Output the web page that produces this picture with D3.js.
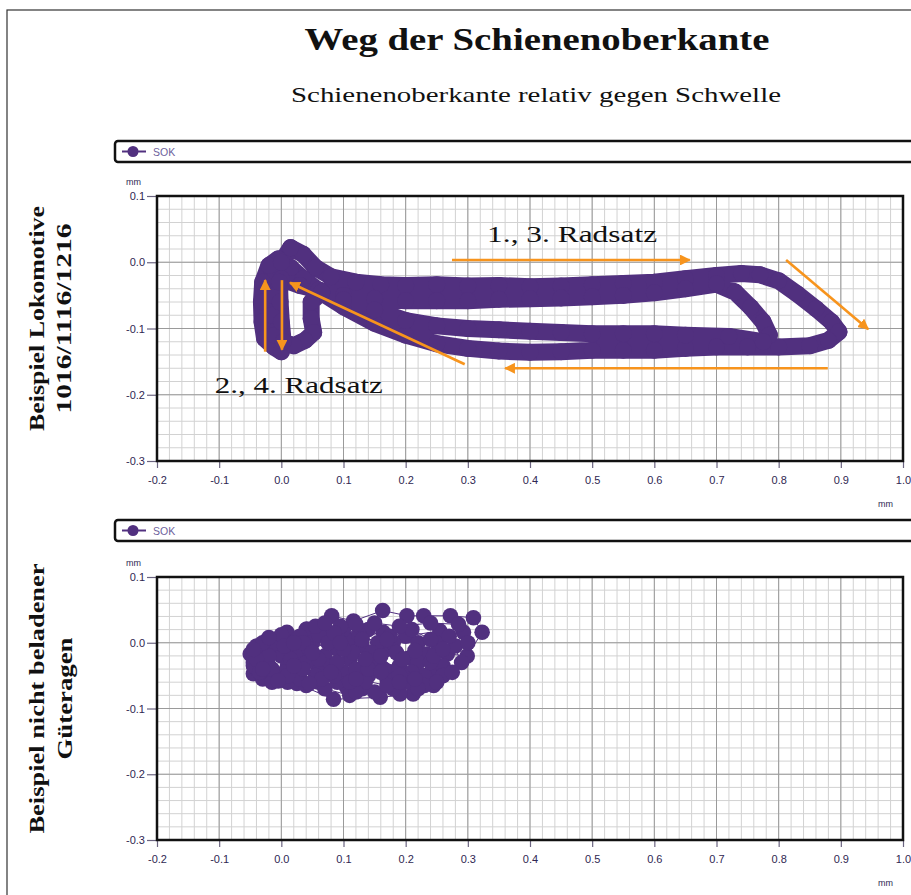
<!DOCTYPE html>
<html>
<head>
<meta charset="utf-8">
<script src="https://cdn.jsdelivr.net/npm/d3@7"></script>
<style>
  body { margin: 0; background: #fff; }
  svg { display: block; }
</style>
</head>
<body>
<svg id="chart" width="911" height="895"></svg>
<script>
// ---- data ---------------------------------------------------------------
const xTicks = [-0.2, -0.1, 0.0, 0.1, 0.2, 0.3, 0.4, 0.5, 0.6, 0.7, 0.8, 0.9, 1.0];
const xTickLabels = ["-0.2", "-0.1", "0.0", "0.1", "0.2", "0.3", "0.4", "0.5", "0.6", "0.7", "0.8", "0.9", "1.0"];
const yTicks = [0.1, 0.0, -0.1, -0.2, -0.3];
const yTickLabels = ["0.1", "0.0", "-0.1", "-0.2", "-0.3"];
const seriesName = "SOK";
const unitLabel = "mm";

// rail-head path relative to sleeper, locomotive (x, y in mm)
const locoPath = [
  [0.015, 0.022], [0.035, 0.012], [0.055, -0.008], [0.08, -0.022], [0.12, -0.03],
  [0.16, -0.034], [0.2, -0.035], [0.25, -0.034], [0.3, -0.036], [0.35, -0.035],
  [0.4, -0.037], [0.45, -0.036], [0.5, -0.034], [0.55, -0.032], [0.6, -0.03],
  [0.65, -0.025], [0.7, -0.02], [0.74, -0.017], [0.77, -0.019], [0.8, -0.028],
  [0.83, -0.048], [0.86, -0.07], [0.885, -0.09], [0.897, -0.105],
  [0.88, -0.118], [0.85, -0.126], [0.8, -0.128], [0.75, -0.128], [0.7, -0.128],
  [0.65, -0.13], [0.6, -0.133], [0.55, -0.133], [0.5, -0.133], [0.45, -0.135],
  [0.4, -0.136], [0.35, -0.134], [0.3, -0.13], [0.25, -0.123], [0.2, -0.11],
  [0.15, -0.092], [0.1, -0.067], [0.065, -0.046], [0.035, -0.025],
  [0.015, -0.008], [-0.005, 0.005], [-0.02, -0.005], [-0.03, -0.03], [-0.032, -0.06],
  [-0.031, -0.09], [-0.027, -0.115], [-0.012, -0.128], [0.0, -0.135], [-0.01, -0.11],
  [-0.015, -0.08], [-0.013, -0.05], [0.0, -0.025], [0.03, -0.035],
  [0.06, -0.042], [0.1, -0.05], [0.15, -0.055], [0.2, -0.058], [0.25, -0.058],
  [0.3, -0.058], [0.35, -0.056], [0.4, -0.055], [0.45, -0.054], [0.5, -0.052],
  [0.55, -0.05], [0.6, -0.046], [0.65, -0.04], [0.7, -0.033],
  [0.73, -0.045], [0.755, -0.068], [0.775, -0.09], [0.785, -0.11], [0.775, -0.12],
  [0.72, -0.112], [0.65, -0.11], [0.6, -0.108], [0.55, -0.108], [0.5, -0.108],
  [0.45, -0.106], [0.4, -0.104], [0.35, -0.102], [0.3, -0.1], [0.25, -0.096],
  [0.2, -0.088], [0.15, -0.072], [0.1, -0.057], [0.065, -0.045],
  [0.048, -0.06], [0.048, -0.085], [0.052, -0.106], [0.038, -0.118], [0.02, -0.126],
  [0.003, -0.12], [0.0, -0.09], [-0.002, -0.06], [-0.003, -0.03], [0.0, 0.0],
  [0.015, 0.022]
];

// rail-head path relative to sleeper, empty freight wagon (x, y in mm)
const wagonPath = [
  [-0.045, -0.03], [-0.03, -0.01], [0.0, 0.005], [0.04, 0.02], [0.081, 0.041],
  [0.116, 0.033], [0.163, 0.049], [0.202, 0.041], [0.229, 0.041], [0.272, 0.041],
  [0.309, 0.038], [0.323, 0.016], [0.299, -0.02], [0.267, -0.017], [0.245, -0.045],
  [0.212, -0.078], [0.159, -0.083], [0.084, -0.086], [0.025, -0.062], [-0.02, -0.05],
  [-0.045, -0.047],
  [-0.05, -0.017], [-0.023, 0.003], [0.009, 0.016], [0.041, 0.021], [0.07, 0.01],
  [0.11, 0.005], [0.164, 0.016], [0.2, 0.01], [0.255, 0.018], [0.293, 0.016],
  [0.28, -0.005], [0.234, -0.017], [0.207, -0.023], [0.245, -0.065], [0.191, -0.078],
  [0.13, -0.07], [0.105, -0.068], [0.06, -0.06], [0.0, -0.055], [-0.04, -0.04],
  [-0.035, -0.02], [-0.01, -0.01], [0.02, -0.005], [0.05, 0.0], [0.09, -0.01],
  [0.13, -0.005], [0.17, -0.01], [0.22, -0.03], [0.26, -0.035], [0.23, -0.05],
  [0.2, -0.06], [0.17, -0.055], [0.14, -0.05], [0.1, -0.045], [0.06, -0.04],
  [0.02, -0.045], [-0.02, -0.035],
  [-0.03, -0.025], [0.0, -0.02], [0.03, -0.015], [0.07, -0.02], [0.11, -0.025],
  [0.15, -0.03], [0.19, -0.035], [0.24, -0.03], [0.21, -0.045], [0.18, -0.045],
  [0.12, -0.04], [0.08, -0.035], [0.04, -0.03], [0.01, -0.035], [-0.025, -0.045],
  [-0.04, -0.005], [-0.01, 0.0], [0.025, 0.005], [0.06, 0.012], [0.1, 0.02],
  [0.14, 0.02], [0.18, 0.0], [0.22, 0.0], [0.25, 0.0], [0.27, 0.01],
  [0.29, -0.03], [0.26, -0.05], [0.23, -0.065], [0.18, -0.07], [0.15, -0.075],
  [0.11, -0.08], [0.07, -0.07], [0.04, -0.065], [0.01, -0.06], [-0.03, -0.055],
  [-0.045, -0.035], [-0.02, -0.02], [0.015, -0.025], [0.045, -0.01], [0.075, 0.0],
  [0.095, 0.025], [0.125, 0.012], [0.155, 0.0], [0.185, -0.015], [0.215, -0.012],
  [0.245, -0.02], [0.275, -0.045], [0.25, -0.06], [0.22, -0.07], [0.195, -0.05],
  [0.165, -0.04], [0.135, -0.06], [0.12, -0.075], [0.09, -0.06], [0.055, -0.05],
  [0.03, -0.055], [0.005, -0.045], [-0.015, -0.06], [-0.035, -0.045],
  [-0.03, 0.0], [0.0, 0.012], [0.03, 0.01], [0.055, 0.025], [0.085, 0.015],
  [0.115, -0.015], [0.145, -0.015], [0.175, 0.01], [0.21, 0.02], [0.24, 0.005],
  [0.26, -0.01], [0.3, 0.0], [0.285, 0.028], [0.24, 0.03], [0.19, 0.025],
  [0.15, 0.03], [0.12, 0.028], [0.07, 0.03], [0.035, 0.0], [0.005, -0.005],
  [-0.04, -0.025], [-0.015, -0.04], [0.01, -0.05], [0.035, -0.04], [0.06, -0.025],
  [0.085, -0.05], [0.11, -0.06], [0.14, -0.04], [0.16, -0.02], [0.19, -0.05],
  [0.17, -0.065], [0.12, -0.055], [0.09, -0.03], [0.065, -0.055], [0.045, -0.062],
  [0.02, -0.035], [-0.005, -0.058], [-0.03, -0.04], [-0.045, -0.01], [-0.02, 0.008],
  [0.02, 0.0], [0.05, -0.015], [0.08, -0.045], [0.1, -0.01], [0.135, -0.025],
  [0.16, -0.045], [0.19, -0.06], [0.215, -0.055], [0.195, -0.025], [0.17, 0.005],
  [0.13, 0.005], [0.095, 0.0]
];

// direction arrows for the locomotive panel (from -> to, in mm)
const locoArrows = [
  [[0.2745, 0.0034], [0.657, 0.0034]],
  [[0.812, 0.0034], [0.944, -0.101]],
  [[0.879, -0.160], [0.360, -0.160]],
  [[0.295, -0.154], [0.014, -0.031]],
  [[-0.026, -0.135], [-0.026, -0.027]],
  [[0.001, -0.027], [0.001, -0.132]]
];
const locoNotes = [
  { text: "1., 3. Radsatz", x: 0.331, y: 0.031, len: 170 },
  { text: "2., 4. Radsatz", x: -0.107, y: -0.197, len: 168 }
];

// ---- styling ------------------------------------------------------------
const purple = "#51307f";
const orange = "#f7941d";
const tickColor = "#2f2752";

const svg = d3.select("#chart");
svg.append("rect").attr("width", 911).attr("height", 895).attr("fill", "#fff");

// outer frame
svg.append("rect")
  .attr("x", 7).attr("y", 10).attr("width", 930).attr("height", 900)
  .attr("fill", "none").attr("stroke", "#333").attr("stroke-width", 1.2);

// titles
svg.append("text")
  .attr("x", 537).attr("y", 50).attr("text-anchor", "middle")
  .attr("font-family", "Liberation Serif, DejaVu Serif, serif")
  .attr("font-weight", "bold").attr("font-size", 31)
  .attr("textLength", 465).attr("lengthAdjust", "spacingAndGlyphs")
  .attr("fill", "#111")
  .text("Weg der Schienenoberkante");
svg.append("text")
  .attr("x", 536).attr("y", 102).attr("text-anchor", "middle")
  .attr("font-family", "Liberation Serif, DejaVu Serif, serif")
  .attr("font-size", 22)
  .attr("textLength", 490).attr("lengthAdjust", "spacingAndGlyphs")
  .attr("fill", "#111")
  .text("Schienenoberkante relativ gegen Schwelle");

const x = d3.scaleLinear().domain([-0.2, 1.0]).range([157, 903]);

const defs = svg.append("defs");
defs.append("marker")
  .attr("id", "arrowHead")
  .attr("viewBox", "0 0 10 10")
  .attr("refX", 9).attr("refY", 5)
  .attr("markerWidth", 4.2).attr("markerHeight", 4.2)
  .attr("markerUnits", "strokeWidth")
  .attr("orient", "auto")
  .append("path").attr("d", "M0,0 L10,5 L0,10 Z").attr("fill", orange);

function drawPanel(cfg) {
  const y = d3.scaleLinear().domain([-0.3, 0.1]).range([cfg.bottom, cfg.top]);
  const g = svg.append("g");

  // legend box
  g.append("rect")
    .attr("x", 115).attr("y", cfg.legendY).attr("width", 830).attr("height", 21)
    .attr("rx", 3).attr("fill", "#fff").attr("stroke", "#111").attr("stroke-width", 2.5);
  const ly = cfg.legendY + 10.5;
  g.append("line").attr("x1", 122).attr("x2", 146).attr("y1", ly).attr("y2", ly)
    .attr("stroke", purple).attr("stroke-width", 2);
  g.append("circle").attr("cx", 133).attr("cy", ly).attr("r", 5.5).attr("fill", purple);
  g.append("text").attr("x", 153).attr("y", ly + 4)
    .attr("font-family", "Liberation Sans, Arial, sans-serif").attr("font-size", 10.5)
    .attr("fill", "#6d5f9c").text(seriesName);

  // grid
  const minorX = d3.range(0, 61).map(i => -0.2 + i * 0.02);
  const minorY = d3.range(0, 21).map(i => -0.3 + i * 0.02);
  const grid = g.append("g");
  grid.selectAll(".mx").data(minorX).join("line")
    .attr("x1", d => x(d)).attr("x2", d => x(d)).attr("y1", cfg.top).attr("y2", cfg.bottom)
    .attr("stroke", "#d2d2d2").attr("stroke-width", 1);
  grid.selectAll(".my").data(minorY).join("line")
    .attr("y1", d => y(d)).attr("y2", d => y(d)).attr("x1", x(-0.2)).attr("x2", x(1.0))
    .attr("stroke", "#d2d2d2").attr("stroke-width", 1);
  grid.selectAll(".Mx").data(xTicks).join("line")
    .attr("x1", d => x(d)).attr("x2", d => x(d)).attr("y1", cfg.top).attr("y2", cfg.bottom)
    .attr("stroke", "#9a9a9a").attr("stroke-width", 1);
  grid.selectAll(".My").data(yTicks).join("line")
    .attr("y1", d => y(d)).attr("y2", d => y(d)).attr("x1", x(-0.2)).attr("x2", x(1.0))
    .attr("stroke", "#9a9a9a").attr("stroke-width", 1);

  // axes
  const xAxis = d3.axisBottom(x).tickValues(xTicks).tickSize(7).tickPadding(8)
    .tickFormat((d, i) => xTickLabels[i]);
  const yAxis = d3.axisLeft(y).tickValues(yTicks).tickSize(10).tickPadding(2)
    .tickFormat((d, i) => yTickLabels[i]);
  const gx = g.append("g").attr("transform", `translate(0,${cfg.bottom})`).call(xAxis);
  const gy = g.append("g").attr("transform", `translate(${x(-0.2)},0)`).call(yAxis);
  [gx, gy].forEach(a => {
    a.select(".domain").remove();
    a.selectAll(".tick line").attr("stroke", "#6b6480").attr("stroke-width", 1.2);
    a.selectAll(".tick text").attr("fill", tickColor)
      .attr("font-family", "Liberation Sans, Arial, sans-serif").attr("font-size", 11);
  });

  // unit labels
  g.append("text").attr("x", 126).attr("y", cfg.top - 11)
    .attr("font-family", "Liberation Sans, Arial, sans-serif").attr("font-size", 9)
    .attr("fill", tickColor).text(unitLabel);
  g.append("text").attr("x", 878).attr("y", cfg.bottom + 46)
    .attr("font-family", "Liberation Sans, Arial, sans-serif").attr("font-size", 9)
    .attr("fill", tickColor).text(unitLabel);

  // plot frame
  g.append("rect")
    .attr("x", x(-0.2)).attr("y", cfg.top)
    .attr("width", x(1.0) - x(-0.2)).attr("height", cfg.bottom - cfg.top)
    .attr("fill", "none").attr("stroke", "#111").attr("stroke-width", 2.5);

  // side label
  const cy = (cfg.top + cfg.bottom) / 2 + cfg.labelShift;
  cfg.label.forEach(ln => {
    g.append("text")
      .attr("transform", `translate(${ln.x},${cy}) rotate(-90)`)
      .attr("text-anchor", "middle")
      .attr("font-family", "Liberation Serif, DejaVu Serif, serif")
      .attr("font-weight", "bold").attr("font-size", 21)
      .attr("textLength", ln.len).attr("lengthAdjust", "spacingAndGlyphs")
      .attr("fill", "#111").text(ln.text);
  });

  // series
  const line = d3.line().x(d => x(d[0])).y(d => y(d[1]));
  const clipId = "clip" + cfg.top;
  defs.append("clipPath").attr("id", clipId).append("rect")
    .attr("x", x(-0.2)).attr("y", cfg.top).attr("width", x(1.0) - x(-0.2)).attr("height", cfg.bottom - cfg.top);
  const s = g.append("g").attr("clip-path", `url(#${clipId})`);
  s.append("path").datum(cfg.data).attr("d", line)
    .attr("fill", "none").attr("stroke", purple)
    .attr("stroke-width", cfg.lineWidth)
    .attr("stroke-linejoin", "round").attr("stroke-linecap", "round");
  s.selectAll("circle").data(cfg.data).join("circle")
    .attr("cx", d => x(d[0])).attr("cy", d => y(d[1])).attr("r", cfg.r)
    .attr("fill", purple);

  // arrows and notes
  (cfg.arrows || []).forEach(a => {
    g.append("line")
      .attr("x1", x(a[0][0])).attr("y1", y(a[0][1]))
      .attr("x2", x(a[1][0])).attr("y2", y(a[1][1]))
      .attr("stroke", orange).attr("stroke-width", 2.6)
      .attr("marker-end", "url(#arrowHead)");
  });
  (cfg.notes || []).forEach(n => {
    g.append("text").attr("x", x(n.x)).attr("y", y(n.y))
      .attr("font-family", "Liberation Serif, DejaVu Serif, serif")
      .attr("font-size", 24).attr("fill", "#111")
      .attr("textLength", n.len).attr("lengthAdjust", "spacingAndGlyphs")
      .text(n.text);
  });
}

drawPanel({
  top: 196, bottom: 461, legendY: 141, labelShift: -10,
  label: [
    { text: "Beispiel Lokomotive", x: 44, len: 225 },
    { text: "1016/1116/1216", x: 71, len: 190 }
  ],
  data: locoPath, lineWidth: 17, r: 8.5,
  arrows: locoArrows, notes: locoNotes
});

drawPanel({
  top: 577, bottom: 840, legendY: 520, labelShift: -10,
  label: [
    { text: "Beispiel nicht beladener", x: 44, len: 270 },
    { text: "Güteragen", x: 72, len: 122 }
  ],
  data: wagonPath, lineWidth: 1, r: 7.8
});
</script>
</body>
</html>
